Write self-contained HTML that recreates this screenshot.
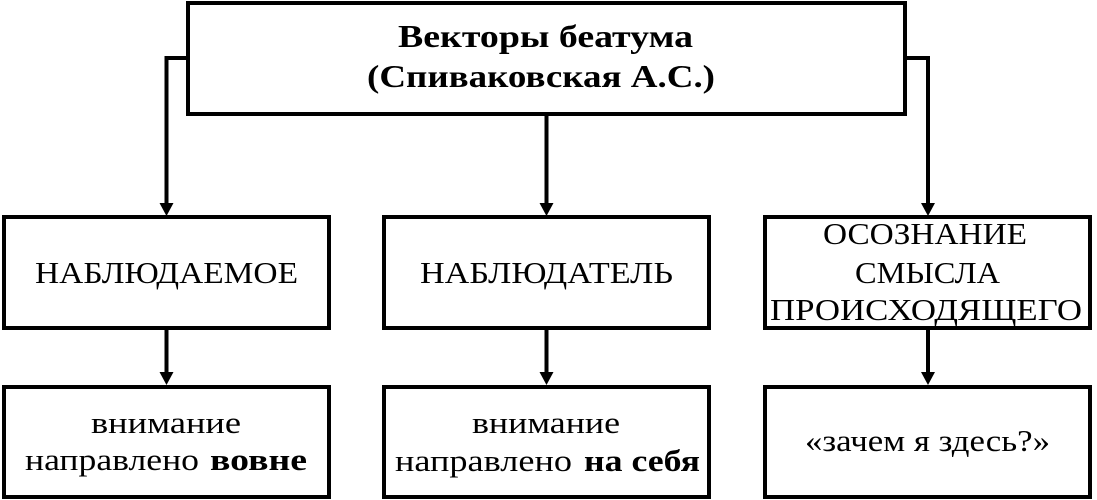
<!DOCTYPE html>
<html>
<head>
<meta charset="utf-8">
<style>
  html,body{margin:0;padding:0;background:#fff;}
  svg{display:block;}
  text{font-family:"Liberation Serif","Noto Serif CJK SC",serif;fill:#000;}
  .b{font-weight:bold;}
</style>
</head>
<body>
<svg width="1097" height="500" viewBox="0 0 1097 500" xmlns="http://www.w3.org/2000/svg">
  <rect x="0" y="0" width="1097" height="500" fill="#fff"/>
  <g fill="none" stroke="#000" stroke-width="4">
    <rect x="188" y="3" width="717" height="111"/>
    <rect x="4" y="217" width="325" height="111"/>
    <rect x="384" y="217" width="325" height="111"/>
    <rect x="765" y="217" width="325" height="111"/>
    <rect x="4" y="387" width="325" height="110"/>
    <rect x="384" y="387" width="325" height="110"/>
    <rect x="765" y="387" width="325" height="110"/>
    <polyline points="188,58 166.5,58 166.5,204"/>
    <line x1="546.5" y1="114" x2="546.5" y2="204"/>
    <polyline points="905,58 928,58 928,204"/>
    <line x1="166.5" y1="328" x2="166.5" y2="373"/>
    <line x1="546.5" y1="328" x2="546.5" y2="373"/>
    <line x1="928" y1="328" x2="928" y2="373"/>
  </g>
  <g fill="#000">
    <polygon points="159.5,203 173.5,203 166.5,216"/>
    <polygon points="539.5,203 553.5,203 546.5,216"/>
    <polygon points="921,203 935,203 928,216"/>
    <polygon points="159.5,372 173.5,372 166.5,385"/>
    <polygon points="539.5,372 553.5,372 546.5,385"/>
    <polygon points="921,372 935,372 928,385"/>
  </g>

  <text class="b" x="398" y="47" font-size="32" textLength="295" lengthAdjust="spacingAndGlyphs">Векторы беатума</text>
  <text class="b" x="367" y="87" font-size="32" textLength="348" lengthAdjust="spacingAndGlyphs">(Спиваковская А.С.)</text>

  <text x="35" y="283" font-size="31" textLength="263" lengthAdjust="spacingAndGlyphs">НАБЛЮДАЕМОЕ</text>
  <text x="420" y="283" font-size="31" textLength="253" lengthAdjust="spacingAndGlyphs">НАБЛЮДАТЕЛЬ</text>
  <text x="823" y="244" font-size="31" textLength="204" lengthAdjust="spacingAndGlyphs">ОСОЗНАНИЕ</text>
  <text x="855" y="283" font-size="31" textLength="145" lengthAdjust="spacingAndGlyphs">СМЫСЛА</text>
  <text x="770" y="320" font-size="31" textLength="312" lengthAdjust="spacingAndGlyphs">ПРОИСХОДЯЩЕГО</text>

  <text x="91" y="433" font-size="31" textLength="150" lengthAdjust="spacingAndGlyphs">внимание</text>
  <text x="25" y="470" font-size="31" textLength="174" lengthAdjust="spacingAndGlyphs">направлено</text>
  <text class="b" x="210" y="470" font-size="31" textLength="97" lengthAdjust="spacingAndGlyphs">вовне</text>

  <text x="472" y="433" font-size="31" textLength="148" lengthAdjust="spacingAndGlyphs">внимание</text>
  <text x="395" y="471" font-size="31" textLength="177" lengthAdjust="spacingAndGlyphs">направлено</text>
  <text class="b" x="584" y="471" font-size="31" textLength="116" lengthAdjust="spacingAndGlyphs">на себя</text>

  <text x="805" y="451" font-size="31" textLength="245" lengthAdjust="spacingAndGlyphs">«зачем я здесь?»</text>
</svg>
</body>
</html>
